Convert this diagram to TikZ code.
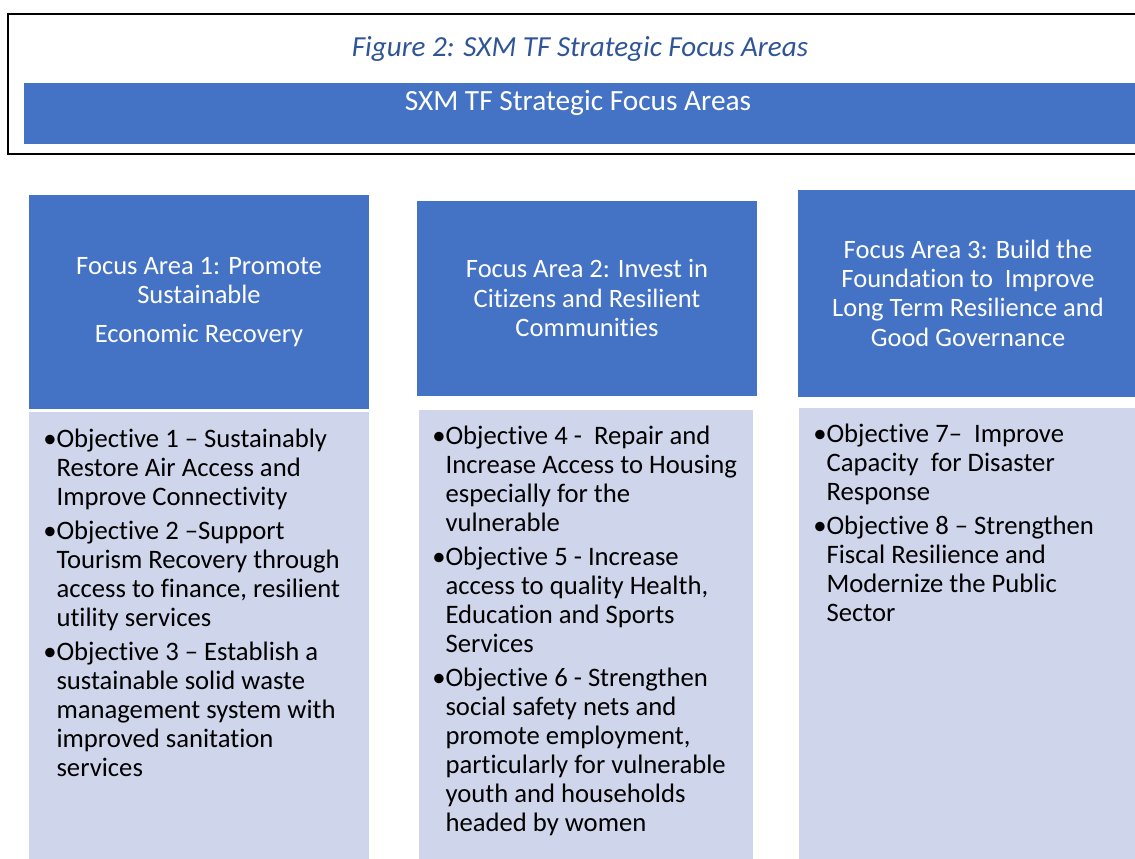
\documentclass[tikz,border=0pt]{standalone}
\usepackage{fontspec}
\setmainfont{Carlito}[Ligatures=NoCommon]
\usetikzlibrary{positioning}
\definecolor{fablue}{HTML}{4472C4}
\definecolor{objfill}{HTML}{CFD5EA}
\definecolor{capblue}{HTML}{2F5597}

\tikzset{
  fatext/.style={text=white, align=center, inner sep=0pt, font=\fontsize{19.9}{22}\selectfont},
  objtext/.style={anchor=base west, inner sep=0pt, font=\fontsize{20}{21.75}\selectfont},
}
\newcommand{\objlist}[1]{\begin{tabular}[t]{@{}l@{}l@{}}#1\end{tabular}}

\begin{document}
\begin{tikzpicture}[x=0.75pt, y=-0.75pt]
  \useasboundingbox (0,0) rectangle (1135,858);

  % Caption frame
  \draw[line width=1.5pt] (7.5,13.5) rectangle (1145,153.5);
  \node[text=capblue, inner sep=0pt, font=\fontsize{21.8}{24}\selectfont\itshape] (caption) at (580,49) {Figure 2: SXM TF Strategic Focus Areas};
  \fill[fablue] (24,83) rectangle (1145,144);
  \node[fatext, font=\fontsize{22}{24}\selectfont] (banner) at (578,103) {SXM TF Strategic Focus Areas};

  % Focus area headers
  \fill[fablue] (29,195) rectangle (369,409);
  \fill[fablue] (417,201) rectangle (757,396);
  \fill[fablue] (798,190) rectangle (1140,397);
  \node[fatext] (fa1) at (199,302) {Focus Area 1: Promote\\Sustainable\\[7.5pt]Economic Recovery};
  \node[fatext] (fa2) at (587,298) {Focus Area 2: Invest in\\Citizens and Resilient\\Communities};
  \node[fatext] (fa3) at (968,293) {Focus Area 3: Build the\\Foundation to~ Improve\\Long Term Resilience and\\Good Governance};

  % Objectives
  \fill[objfill] (29,412) rectangle (369,860);
  \fill[objfill] (419,410) rectangle (753,860);
  \fill[objfill] (799,408) rectangle (1140,860);
  \node[objtext] (obj1) at (43,447) {\objlist{%
    \textbullet & Objective 1 – Sustainably\\
    & Restore Air Access and\\
    & Improve Connectivity\\[4pt]
    \textbullet & Objective 2 –Support\\
    & Tourism Recovery through\\
    & access to finance, resilient\\
    & utility services\\[4pt]
    \textbullet & Objective 3 – Establish a\\
    & sustainable solid waste\\
    & management system with\\
    & improved sanitation\\
    & services}};
  \node[objtext] (obj2) at (432,444) {\objlist{%
    \textbullet & Objective 4 -~ Repair and\\
    & Increase Access to Housing\\
    & especially for the\\
    & vulnerable\\[4pt]
    \textbullet & Objective 5 - Increase\\
    & access to quality Health,\\
    & Education and Sports\\
    & Services\\[4pt]
    \textbullet & Objective 6 - Strengthen\\
    & social safety nets and\\
    & promote employment,\\
    & particularly for vulnerable\\
    & youth and households\\
    & headed by women}};
  \node[objtext] (obj3) at (813,442) {\objlist{%
    \textbullet & Objective 7–~ Improve\\
    & Capacity~ for Disaster\\
    & Response\\[4pt]
    \textbullet & Objective 8 – Strengthen\\
    & Fiscal Resilience and\\
    & Modernize the Public\\
    & Sector}};
\end{tikzpicture}
\end{document}
